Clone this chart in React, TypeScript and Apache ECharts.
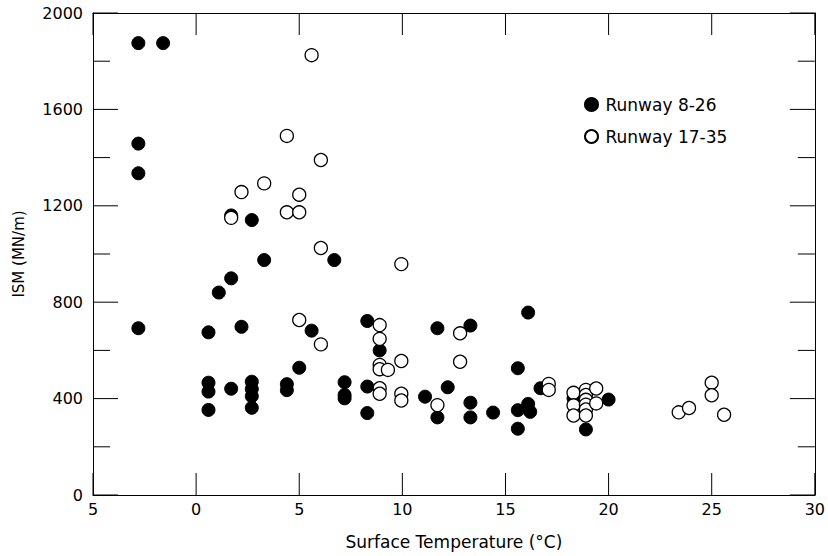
import React, { useEffect, useRef } from "react";
import * as echarts from "echarts";

// Runway 8-26 (filled circles)
const runway826X = [-2.8, -1.6, -2.8, -2.8, 1.7, 2.7, 3.3, 6.7, 1.7, 1.1, -2.8, 0.6, 2.2, 5.6, 5.0, 0.6, 0.6, 1.7, 2.7, 2.7, 2.7, 4.4, 4.4, 0.6, 2.7, 7.2, 7.2, 7.2, 8.3, 8.9, 8.3, 8.3, 11.1, 11.7, 12.2, 11.7, 13.3, 13.3, 13.3, 14.4, 16.1, 15.6, 15.6, 16.1, 16.2, 15.6, 16.7, 18.3, 18.9, 20.0];
const runway826Y = [1875, 1875, 1458, 1335, 1160, 1141, 975, 975, 899, 840, 692, 675, 698, 682, 528, 466, 429, 441, 470, 440, 410, 460, 435, 353, 362, 468, 415, 401, 722, 600, 450, 340, 408, 692, 447, 322, 703, 383, 322, 342, 757, 526, 352, 378, 345, 275, 443, 401, 272, 396];

// Runway 17-35 (open circles)
const runway1735X = [5.6, 4.4, 6.05, 3.3, 2.2, 5.0, 4.4, 5.0, 1.7, 6.05, 9.95, 5.0, 6.05, 8.9, 8.9, 8.9, 8.9, 9.3, 9.95, 8.9, 8.9, 9.95, 9.95, 11.7, 12.8, 12.8, 17.1, 17.1, 18.3, 18.3, 18.3, 18.9, 18.9, 18.9, 18.9, 18.9, 18.9, 19.4, 19.4, 23.4, 23.9, 25.0, 25.0, 25.6];
const runway1735Y = [1825, 1490, 1390, 1293, 1257, 1246, 1173, 1173, 1150, 1025, 958, 726, 625, 705, 648, 540, 522, 519, 556, 443, 420, 420, 392, 373, 671, 553, 461, 436, 424, 372, 330, 436, 415, 395, 375, 355, 330, 442, 380, 343, 361, 466, 414, 333];

// Axis ticks
const xTicks = [-5, 0, 5, 10, 15, 20, 25, 30];
const yTicks = [0, 400, 800, 1200, 1600, 2000];
const yMinorTicks = [200, 600, 1000, 1400, 1800];

const FONT = "DejaVu Sans";

export default function App() {
  const ref = useRef<HTMLDivElement>(null);
  useEffect(() => {
    if (!ref.current) return;
    const chart = echarts.init(ref.current, null, { renderer: "svg" });
    const xMin = xTicks[0];
    const xMax = xTicks[xTicks.length - 1];
    const yMin = yTicks[0];
    const yMax = yTicks[yTicks.length - 1];
    const mkX = (position: string) => ({
      type: "value",
      position,
      min: xMin,
      max: xMax,
      interval: 5,
      splitLine: { show: false },
      axisLine: { show: true, onZero: false, lineStyle: { color: "#000", width: 1 } },
      axisTick: { show: false },
    });
    const mkY = (position: string) => ({
      type: "value",
      position,
      min: yMin,
      max: yMax,
      interval: 400,
      splitLine: { show: false },
      axisLine: { show: true, onZero: false, lineStyle: { color: "#000", width: 1 } },
      axisTick: { show: false },
      minorTick: { show: false },
    });
    const tickStyle = { stroke: "#000", lineWidth: 1 };
    const renderTicks = (params: any, api: any) => {
      if (params.dataIndex !== 0) return null;
      const children: any[] = [];
      const line = (x1: number, y1: number, x2: number, y2: number) =>
        children.push({ type: "line", shape: { x1, y1, x2, y2 }, style: tickStyle });
      xTicks.forEach((v) => {
        const b = api.coord([v, yMin]);
        const t = api.coord([v, yMax]);
        line(b[0], b[1], b[0], b[1] - 22);
        line(t[0], t[1], t[0], t[1] + 22);
      });
      yTicks.forEach((v) => {
        const l = api.coord([xMin, v]);
        const r = api.coord([xMax, v]);
        line(l[0], l[1], l[0] + 25, l[1]);
        line(r[0], r[1], r[0] - 25, r[1]);
      });
      yMinorTicks.forEach((v) => {
        const l = api.coord([xMin, v]);
        const r = api.coord([xMax, v]);
        line(l[0], l[1], l[0] + 17, l[1]);
        line(r[0], r[1], r[0] - 17, r[1]);
      });
      return { type: "group", children };
    };
    chart.setOption({
      animation: false,
      backgroundColor: "#fff",
      grid: { left: 93, right: 10, top: 13, bottom: 61, containLabel: false },
      legend: {
        orient: "vertical",
        left: 584,
        top: 96,
        padding: 0,
        itemWidth: 18,
        itemHeight: 13,
        itemGap: 15,
        textStyle: { fontFamily: FONT, fontSize: 17, color: "#000" },
        data: ["Runway 8-26", "Runway 17-35"],
      },
      xAxis: [
        {
          ...mkX("bottom"),
          name: "Surface Temperature (°C)",
          nameLocation: "middle",
          nameGap: 38,
          nameTextStyle: { fontFamily: FONT, fontSize: 17, color: "#000" },
          axisLabel: {
            margin: 6,
            fontFamily: FONT,
            fontSize: 16,
            color: "#000",
            formatter: (v: number) => String(Math.abs(v)),
          },
        },
        { ...mkX("top"), axisLabel: { show: false } },
      ],
      yAxis: [
        {
          ...mkY("left"),
          name: "ISM (MN/m)",
          nameLocation: "middle",
          nameGap: 67,
          nameTextStyle: { fontFamily: FONT, fontSize: 15, color: "#000" },
          axisLabel: {
            margin: 10,
            fontFamily: FONT,
            fontSize: 16,
            color: "#000",
            formatter: (v: number) => String(v),
          },
        },
        { ...mkY("right"), axisLabel: { show: false } },
      ],
      series: [
        {
          name: "ticks",
          type: "custom",
          silent: true,
          clip: false,
          z: 1,
          data: [[xMin, yMin]],
          renderItem: renderTicks,
        },
        {
          name: "Runway 8-26",
          type: "scatter",
          symbol: "circle",
          symbolSize: 13,
          z: 2,
          itemStyle: { color: "#000", borderColor: "#000", borderWidth: 1, opacity: 1 },
          data: runway826X.map((x, i) => [x, runway826Y[i]]),
        },
        {
          name: "Runway 17-35",
          type: "scatter",
          symbol: "circle",
          symbolSize: 13,
          z: 3,
          itemStyle: { color: "#fff", borderColor: "#000", borderWidth: 1.3, opacity: 1 },
          data: runway1735X.map((x, i) => [x, runway1735Y[i]]),
        },
      ],
    });
    return () => chart.dispose();
  }, []);
  return <div ref={ref} style={{ width: 828, height: 556, position: "absolute", left: 0, top: 0 }} />;
}
